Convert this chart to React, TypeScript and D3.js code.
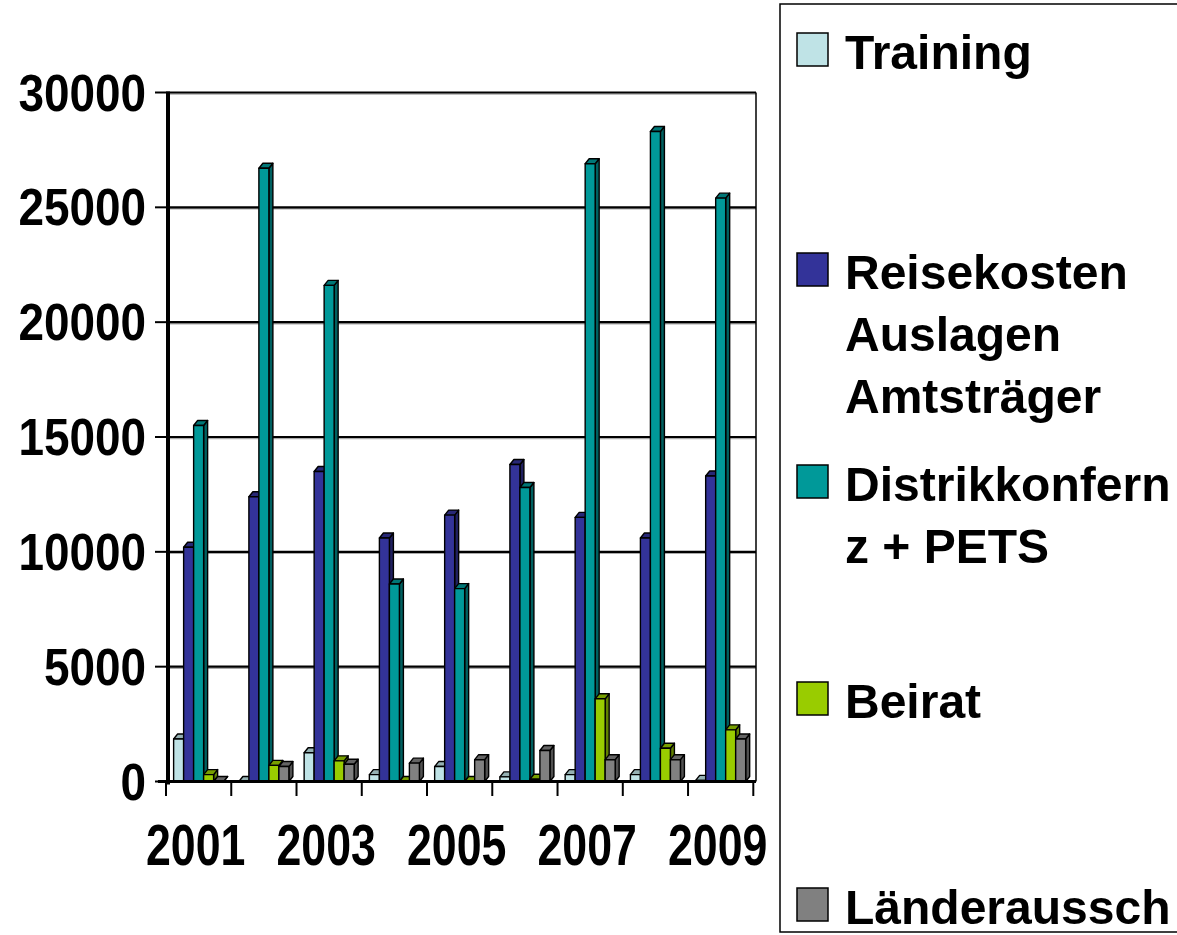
import React from 'react';
import * as d3 from 'd3';

const years = ['2001', '2002', '2003', '2004', '2005', '2006', '2007', '2008', '2009'];
const yearLabels = ['2001', '2003', '2005', '2007', '2009'];
const yTicks = [0, 5000, 10000, 15000, 20000, 25000, 30000];

const training = [1850, 0, 1250, 300, 650, 200, 300, 300, 50];
const reisekosten = [10200, 12400, 13500, 10600, 11600, 13800, 11500, 10600, 13300];
const distrikt = [15500, 26700, 21600, 8600, 8400, 12800, 26900, 28300, 25400];
const beirat = [300, 700, 900, 0, 0, 100, 3600, 1450, 2250];
const laender = [0, 650, 750, 800, 950, 1350, 950, 950, 1850];

const series = [
  { key: 'training', values: training, color: '#bfe3e6', label: ['Training'] },
  { key: 'reise', values: reisekosten, color: '#333399', label: ['Reisekosten', 'Auslagen', 'Amtsträger'] },
  { key: 'distrikt', values: distrikt, color: '#009999', label: ['Distrikkonfern', 'z + PETS'] },
  { key: 'beirat', values: beirat, color: '#99cc00', label: ['Beirat'] },
  { key: 'laender', values: laender, color: '#808080', label: ['Länderaussch'] },
];

// legend baselines for each line of each entry
const legendBaselines = [[69], [289, 351, 413], [501, 563], [718], [924]];

const FONT = 'Liberation Sans, Arial, Helvetica, sans-serif';

const App = () => {
  const left = 168;
  const right = 756;
  const top = 92.5;
  const bottom = 781.5;

  const x = d3.scaleBand().domain(years).range([166, 753.3]).padding(0);
  const barW = 10;
  const groupW = barW * series.length;
  const inner = d3
    .scaleBand()
    .domain(series.map(s => s.key))
    .range([(x.bandwidth() - groupW) / 2, (x.bandwidth() + groupW) / 2]);
  const y = d3.scaleLinear().domain([0, 30000]).range([bottom, top]);

  const dx = 4;
  const dy = 5;

  const bars = [];
  years.forEach((yr, i) => {
    series.forEach(s => {
      const v = s.values[i];
      const x0 = x(yr) + inner(s.key);
      const w = inner.bandwidth();
      const y1 = y(v);
      const y0 = y(0);
      const c = d3.color(s.color);
      const side = c.darker(1.3).toString();
      const topC = c.darker(0.7).toString();
      bars.push(
        <g key={yr + s.key} stroke="#000" strokeWidth={1.4} strokeLinejoin="round">
          <polygon
            points={`${x0 + w},${y1} ${x0 + w + dx},${y1 - dy} ${x0 + w + dx},${y0 - dy} ${x0 + w},${y0}`}
            fill={side}
          />
          <polygon
            points={`${x0},${y1} ${x0 + dx},${y1 - dy} ${x0 + w + dx},${y1 - dy} ${x0 + w},${y1}`}
            fill={topC}
          />
          {v > 0 && <rect x={x0} y={y1} width={w} height={y0 - y1} fill={s.color} />}
        </g>
      );
    });
  });

  return (
    <svg
      width={1177}
      height={935}
      style={{ position: 'absolute', left: 0, top: 0, background: '#fff' }}
    >
      {/* gridlines */}
      {yTicks.filter(t => t > 0).map(t => (
        <g key={'g' + t}>
          <line x1={left} x2={right} y1={y(t) + 1.5} y2={y(t) + 1.5} stroke="#aaa" strokeWidth={1.5} />
          <line x1={left} x2={right} y1={y(t)} y2={y(t)} stroke="#000" strokeWidth={2.2} />
        </g>
      ))}
      {/* right frame */}
      <line x1={right} x2={right} y1={top} y2={bottom} stroke="#000" strokeWidth={1.5} />

      {bars}

      {/* x axis */}
      <line x1={158} x2={right} y1={bottom} y2={bottom} stroke="#000" strokeWidth={3} />
      {years.map(yr => (
        <line key={'xt' + yr} x1={x(yr)} x2={x(yr)} y1={bottom} y2={796} stroke="#000" strokeWidth={2} />
      ))}
      <line x1={753.3} x2={753.3} y1={bottom} y2={796} stroke="#000" strokeWidth={2} />

      {/* y axis */}
      <line x1={left} x2={left} y1={top - 1} y2={bottom + 3} stroke="#000" strokeWidth={4} />
      {yTicks.map(t => (
        <line key={'yt' + t} x1={155} x2={left} y1={y(t)} y2={y(t)} stroke="#000" strokeWidth={2} />
      ))}
      {yTicks.map(t => (
        <text
          key={'yl' + t}
          transform={`translate(146,${y(t) + 18}) scale(0.9,1)`}
          textAnchor="end"
          fontFamily={FONT}
          fontWeight="bold"
          fontSize={51}
        >
          {t}
        </text>
      ))}
      {yearLabels.map(yr => (
        <text
          key={'xl' + yr}
          transform={`translate(${x(yr) + x.bandwidth() / 2 - 3},865) scale(0.77,1)`}
          textAnchor="middle"
          fontFamily={FONT}
          fontWeight="bold"
          fontSize={58}
        >
          {yr}
        </text>
      ))}

      {/* legend */}
      <rect x={780} y={4} width={420} height={928} fill="none" stroke="#000" strokeWidth={1.5} />
      {series.map((s, i) => (
        <g key={'lg' + s.key}>
          <rect
            x={797}
            y={legendBaselines[i][0] - 36}
            width={31}
            height={33}
            fill={s.color}
            stroke="#000"
            strokeWidth={1.5}
          />
          {s.label.map((line, j) => (
            <text
              key={j}
              transform={`translate(845,${legendBaselines[i][j]}) scale(0.98,1)`}
              fontFamily={FONT}
              fontWeight="bold"
              fontSize={49}
            >
              {line}
            </text>
          ))}
        </g>
      ))}
    </svg>
  );
};

export default App;
